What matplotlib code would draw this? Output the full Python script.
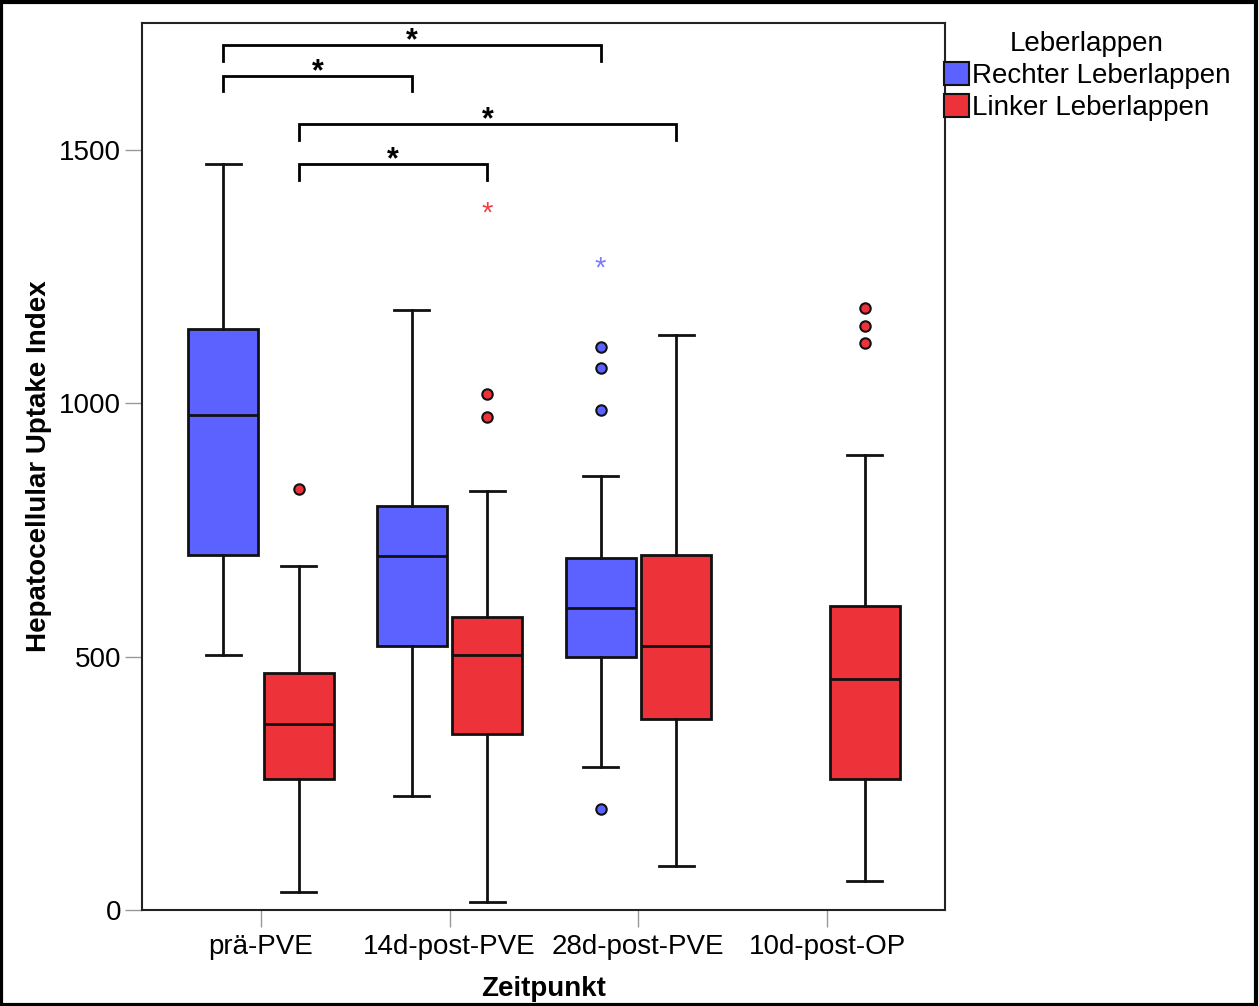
import matplotlib
matplotlib.use("Agg")
import matplotlib.pyplot as plt
from matplotlib.patches import Patch, Rectangle

plt.rcParams['font.family'] = ['Liberation Sans', 'DejaVu Sans']

categories = ['prä-PVE', '14d-post-PVE', '28d-post-PVE', '10d-post-OP']
series_names = ['Rechter Leberlappen', 'Linker Leberlappen']

# Rechter Leberlappen (blue); last group has no data
r_whislo = [503, 225, 282, None]
r_q1 = [701, 521, 499, None]
r_med = [976, 698, 595, None]
r_q3 = [1147, 798, 694, None]
r_whishi = [1471, 1183, 856, None]
r_outliers = [[], [], [1111, 1069, 986, 200], []]
r_extremes = [[], [], [1278], []]

# Linker Leberlappen (red)
l_whislo = [35, 16, 87, 58]
l_q1 = [259, 347, 377, 259]
l_med = [367, 503, 521, 456]
l_q3 = [468, 579, 700, 600]
l_whishi = [678, 826, 1134, 897]
l_outliers = [[831], [1019, 972], [], [1188, 1152, 1119]]
l_extremes = [[], [1387], [], []]

# significance brackets: (group a, group b, series index, top y, leg bottom y)
brackets = [(0, 2, 0, 1706, 1676), (0, 1, 0, 1646, 1615),
            (0, 2, 1, 1550, 1520), (0, 1, 1, 1471, 1440)]

colors = ['#5B62FF', '#EE3239']
star_colors = ['#7B7BFF', '#F04048']
offsets = [-0.2, 0.2]
width = 0.37

fig = plt.figure(figsize=(12.59, 10.06), dpi=100)
ax = fig.add_axes([142/1259, 1-910/1006, (945-142)/1259, (910-23)/1006])

series = [
    (r_whislo, r_q1, r_med, r_q3, r_whishi, r_outliers, r_extremes),
    (l_whislo, l_q1, l_med, l_q3, l_whishi, l_outliers, l_extremes),
]

for si, (wlo, q1, med, q3, whi, outl, extr) in enumerate(series):
    stats, pos = [], []
    for gi in range(len(categories)):
        if med[gi] is None:
            continue
        stats.append(dict(whislo=wlo[gi], q1=q1[gi], med=med[gi], q3=q3[gi],
                          whishi=whi[gi], fliers=outl[gi]))
        pos.append(gi + offsets[si])
    ax.bxp(stats, positions=pos, widths=width, patch_artist=True,
           showfliers=True, capwidths=width*0.5,
           boxprops=dict(facecolor=colors[si], edgecolor='#111111', linewidth=2),
           medianprops=dict(color='#111111', linewidth=2),
           whiskerprops=dict(color='#111111', linewidth=2),
           capprops=dict(color='#111111', linewidth=2),
           flierprops=dict(marker='o', markerfacecolor=colors[si],
                           markeredgecolor='#111111', markersize=7.5,
                           markeredgewidth=1.5))
    for gi, ex in enumerate(extr):
        for v in ex:
            ax.text(gi + offsets[si], v - 12, '*', color=star_colors[si],
                    fontsize=21, ha='center', va='center')

for a, b, si, ytop, ybot in brackets:
    x1, x2 = a + offsets[si], b + offsets[si]
    ax.plot([x1, x1, x2, x2], [ybot, ytop, ytop, ybot], color='black', lw=2,
            solid_joinstyle='miter')
    ax.text((x1 + x2) / 2, ytop - 22, '*', color='black', fontsize=22,
            fontweight='bold', ha='center', va='bottom')

ax.set_xlim(-0.63, 3.625)
ax.set_ylim(0, 1750)
ax.set_xticks(range(len(categories)))
ax.set_xticklabels(categories)
ax.set_yticks([0, 500, 1000, 1500])
ax.tick_params(axis='both', direction='out', length=12, width=1,
               color='#999999', labelsize=20, pad=3)
ax.tick_params(axis='x', pad=5)
for s in ax.spines.values():
    s.set_linewidth(1.5)
    s.set_color('#222222')
ax.set_xlabel('Zeitpunkt', fontsize=20, fontweight='bold', labelpad=12)
ax.set_ylabel('Hepatocellular Uptake Index', fontsize=20, fontweight='bold',
              labelpad=5)

handles = [Patch(facecolor=colors[i], edgecolor='#111111', linewidth=1.5)
           for i in range(2)]
fig.legend(handles, series_names, title='Leberlappen', loc='upper left',
           bbox_to_anchor=(944/1259, 1-31/1006), frameon=False, fontsize=20,
           title_fontsize=20, handlelength=0.9, handleheight=0.9,
           handletextpad=0.1, labelspacing=0.18, borderpad=0, borderaxespad=0)

fig.add_artist(Rectangle((0.001, 0.001), 0.997, 0.997, transform=fig.transFigure,
                         fill=False, edgecolor='black', linewidth=3))

fig.savefig('out.png', dpi=100)
